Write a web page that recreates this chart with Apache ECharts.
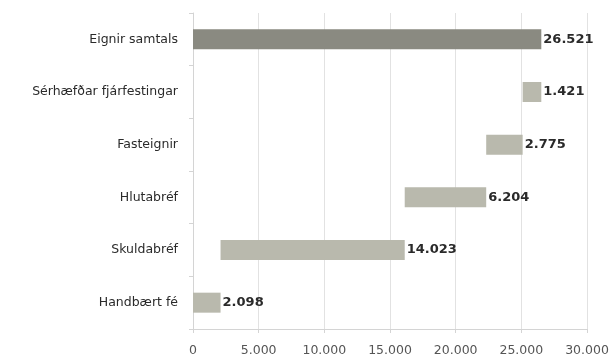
<!DOCTYPE html>
<html><head><meta charset="utf-8">
<script src="https://cdn.jsdelivr.net/npm/echarts@6/dist/echarts.min.js"></script>
<style>html,body{margin:0;padding:0;background:#fff}#c{width:615px;height:356px}</style>
</head><body><div id="c"></div>
<script>
const categories = ['Eignir samtals','Sérhæfðar fjárfestingar','Fasteignir','Hlutabréf','Skuldabréf','Handbært fé'];
const values = [26521, 1421, 2775, 6204, 14023, 2098];
const isTotal = [true, false, false, false, false, false];
const xTicks = [0, 5000, 10000, 15000, 20000, 25000, 30000];

function fmt(v){ return String(v).replace(/\B(?=(\d{3})+(?!\d))/g, '.'); }

// waterfall offsets: components stack from bottom (Handbært fé) upward
const base = new Array(values.length).fill(0);
let run = 0;
for (let i = values.length - 1; i >= 0; i--) {
  if (isTotal[i]) { base[i] = 0; continue; }
  base[i] = run; run += values[i];
}

const chart = echarts.init(document.getElementById('c'));
chart.setOption({
  animation: false,
  grid: { left: 193, right: 28, top: 13, bottom: 27, containLabel: false, outerBoundsMode: 'none' },
  xAxis: {
    type: 'value', min: xTicks[0], max: xTicks[xTicks.length-1], interval: 5000,
    axisLine: { show: true, lineStyle: { color: '#d4d4d4' } },
    axisTick: { show: true, length: 4, lineStyle: { color: '#d4d4d4' } },
    splitLine: { lineStyle: { color: '#e2e2e2', width: 1 } },
    axisLabel: { formatter: fmt, color: '#555', fontSize: 12.5, fontFamily: 'DejaVu Sans, sans-serif', margin: 15 }
  },
  yAxis: {
    type: 'category', data: categories, inverse: true,
    axisLine: { show: true, lineStyle: { color: '#d4d4d4' } },
    axisTick: { show: true, length: 4, lineStyle: { color: '#d4d4d4' } },
    axisLabel: { color: '#2a2a2a', fontSize: 12.5, fontFamily: 'DejaVu Sans, sans-serif', margin: 15 }
  },
  series: [
    { type: 'bar', stack: 'w', data: base, itemStyle: { color: 'transparent' }, barWidth: 20, silent: true },
    { type: 'bar', stack: 'w', barWidth: 20,
      data: values.map((v, i) => ({ value: v, itemStyle: { color: isTotal[i] ? '#8a8a81' : '#b9b9ad' } })),
      label: { show: true, position: 'right', distance: 2, formatter: p => fmt(p.value), color: '#2a2a2a', fontWeight: 'bold', fontSize: 13, fontFamily: 'DejaVu Sans, sans-serif' }
    }
  ]
});
</script></body></html>
